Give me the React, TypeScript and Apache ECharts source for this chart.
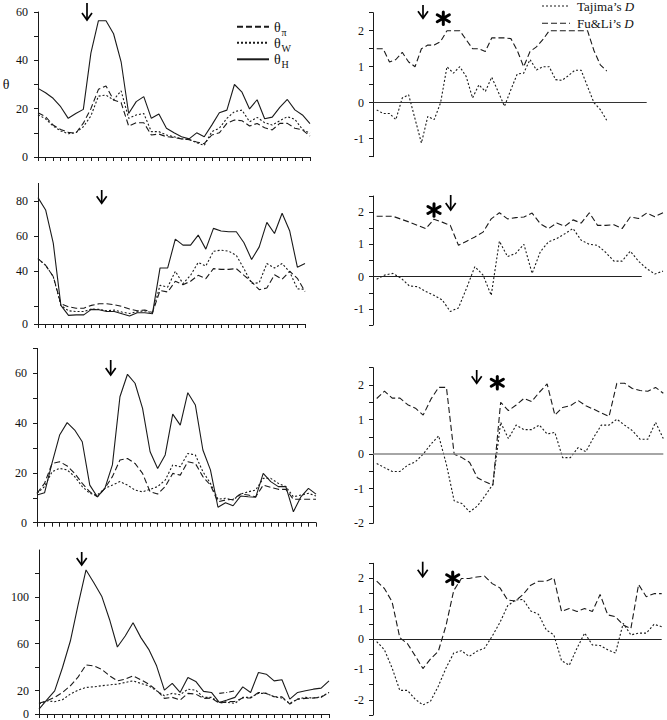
import React, { useEffect, useRef } from "react";
import * as echarts from "echarts";

// ---------- data ----------
// Panel 1 (left, top): 37 windows
const p1ThetaPi = [18.3, 16.7, 13.2, 11.4, 10.2, 9.8, 14, 20, 28, 29.4, 23.6, 22.5, 12.8, 14.2, 14.2, 9.1, 9.5, 8.4, 8.1, 7.5, 7.2, 6.2, 5.5, 9.1, 10, 13.9, 15.3, 15, 12.8, 13.9, 12.1, 11.2, 13.9, 13.9, 11.9, 11.2, 8.7];
const p1ThetaW = [17.5, 15.8, 12.8, 10.8, 9.6, 10, 12.5, 17, 25.2, 25.6, 23.6, 27.4, 16, 17.4, 18, 10.5, 10.5, 9.1, 8.4, 7.5, 7.2, 5.9, 4.8, 10.5, 11.9, 16, 18.8, 19.4, 14.6, 16.4, 14.2, 13.2, 15, 16.7, 15.6, 11.4, 9.8];
const p1ThetaH = [28.4, 26.6, 24.3, 20.8, 16, 18, 19.7, 43, 56.4, 56.4, 51, 39.4, 18, 22.9, 25, 16, 17.8, 11.9, 10, 8.4, 7.5, 10, 8.4, 13.2, 18.3, 19.4, 30, 26.8, 19.9, 23.7, 15.8, 16.5, 20.5, 23.8, 19.5, 17.4, 13.8];
const p1Tajima = [-0.2, -0.3, -0.3, -0.47, 0.13, 0.22, -0.45, -1.12, -0.38, -0.47, 0, 1.0, 0.82, 1.0, 0.73, 0.13, 0.5, 0.31, 0.71, 0.31, -0.1, 0.36, 0.8, 0.82, 1.2, 0.91, 1.0, 1.0, 0.64, 0.62, 0.75, 0.9, 0.9, 0.45, 0, -0.19, -0.49];
const p1FuLi = [1.5, 1.5, 1.13, 1.2, 1.4, 1.13, 1.0, 1.5, 1.6, 1.6, 1.7, 2, 2, 2, 1.75, 1.5, 1.5, 1.42, 1.8, 1.8, 1.8, 1.78, 1.45, 1.0, 1.42, 1.55, 1.75, 2, 2, 2, 2, 2, 2, 2, 1.45, 1.05, 0.88];

// Panel 2: 36 windows
const p2ThetaPi = [47.2, 43.4, 37, 21.5, 19.8, 19, 19, 20.6, 21.5, 21.5, 21, 20, 18.5, 17.5, 18, 16.5, 29.1, 28.2, 34.3, 32.4, 34.3, 37.7, 35.8, 41.5, 41.1, 41.1, 41.5, 37.7, 34, 29.5, 30.5, 38, 35.5, 40, 36, 28.5];
const p2ThetaW = [47.2, 43.4, 37, 20.6, 17.5, 17.1, 17.1, 18.5, 18.3, 17.5, 17.9, 16.8, 16, 17, 17.5, 16.4, 32, 31, 40, 33, 37.7, 45, 43, 51.4, 52, 51.4, 49, 41.5, 33, 33.5, 44.4, 41.9, 44.4, 39.6, 30, 29.7];
const p2ThetaH = [81.9, 74.9, 56, 20.6, 14.9, 15.2, 15.2, 18.3, 18.1, 17.1, 17.1, 15.8, 14.5, 16.4, 16.4, 15.8, 41.9, 41.9, 58.3, 54.9, 54.9, 60.6, 52.6, 64.4, 62.9, 62.5, 62.5, 56.2, 46.7, 53.9, 67.8, 61.5, 73, 62.9, 42.3, 44.4];
const p2Tajima = [-0.08, 0.05, 0.1, -0.05, -0.29, -0.31, -0.46, -0.58, -0.72, -1.08, -0.97, -0.35, 0.31, 0.05, -0.58, 1.1, 0.62, 0.72, 1.0, 0.1, 0.77, 1.08, 1.18, 1.33, 1.49, 1.13, 1.0, 0.97, 0.75, 0.48, 0.48, 0.79, 0.48, 0.25, 0.08, 0.17];
const p2FuLi = [1.87, 1.87, 1.87, 1.78, 1.69, 1.59, 1.49, 1.78, 1.69, 1.59, 0.97, 1.1, 1.23, 1.38, 1.79, 1.98, 1.79, 1.83, 1.85, 1.97, 1.64, 1.49, 1.66, 1.56, 1.76, 1.66, 1.98, 1.59, 1.59, 1.61, 1.49, 1.85, 1.8, 1.97, 1.86, 1.98];

// Panel 3: 38 windows
const p3ThetaPi = [11.8, 15.8, 23.8, 24.5, 22.8, 19.8, 15.8, 12.4, 10.4, 13.8, 18.5, 25.2, 25.8, 23.8, 19.8, 12.4, 11.5, 14.5, 19.8, 19.1, 24.5, 23.8, 18.5, 15.1, 8.4, 9.1, 9.4, 11.5, 11.1, 10.4, 15.1, 14.2, 13.4, 13.4, 9.4, 9.4, 9.4, 9.4];
const p3ThetaW = [11.8, 14.5, 20.5, 21.8, 21.2, 18.5, 14.5, 11.8, 11.1, 13.8, 15.1, 16.5, 15.1, 13.1, 12.4, 13.4, 14.5, 17.1, 23.2, 22.5, 27.8, 27.2, 20.5, 15.8, 9.4, 9.8, 9.1, 11.5, 12.4, 13.1, 17.8, 17.8, 15.8, 14.5, 10.4, 11.1, 11.8, 10.7];
const p3ThetaH = [11.1, 12, 24, 35.2, 40.2, 37.2, 32.5, 15.1, 10.4, 13.8, 23.2, 50.6, 59.6, 56, 45.9, 28.5, 21.8, 27.2, 43.6, 39.2, 52.2, 47.3, 29.2, 21.2, 6.2, 8, 6.8, 10.7, 10.4, 10.2, 19.8, 16.5, 14.5, 14.5, 4.4, 10.4, 13.8, 11.5];
const p3Tajima = [-0.27, -0.39, -0.5, -0.5, -0.32, -0.22, 0.0, 0.29, 0.53, -0.3, -1.35, -1.43, -1.67, -1.5, -1.2, -0.87, 0.92, 0.45, 0.84, 0.71, 0.71, 0.84, 0.58, 0.63, -0.1, -0.1, 0.19, 0.07, 0.48, 0.84, 0.84, 1.01, 0.84, 0.68, 0.43, 0.43, 0.92, 0.45];
const p3FuLi = [1.61, 1.82, 1.62, 1.62, 1.43, 1.33, 1.13, 1.59, 1.93, 1.93, 0.0, -0.1, -0.24, -0.68, -0.8, -0.9, 1.5, 1.26, 1.42, 1.61, 1.52, 1.79, 2.03, 1.13, 1.35, 1.4, 1.55, 1.4, 1.3, 1.19, 1.09, 2.05, 2.05, 1.9, 1.84, 1.82, 1.93, 1.76];

// Panel 4: 38 windows
const p4ThetaPi = [9.1, 11.3, 14.2, 18.4, 24.1, 31.7, 41.9, 41.1, 38.2, 32.6, 28.3, 29.7, 32.6, 29.2, 25.5, 20.4, 13.3, 14.2, 11.9, 17.6, 17, 13.3, 13.6, 9.1, 10.5, 10.8, 13.6, 13.6, 18.4, 17.6, 14.7, 14.7, 8.5, 12.7, 13.3, 13.6, 14.2, 18.4];
const p4ThetaW = [8.5, 11.3, 10.5, 12.2, 17, 20.4, 22.7, 23.2, 24.1, 24.9, 25.5, 26.9, 28.3, 26.1, 24.1, 19.8, 15.6, 17.6, 16.4, 21.2, 20.4, 14.2, 14.2, 9.9, 9.9, 9.1, 14.2, 14.2, 17.6, 17.6, 14.7, 13.6, 9.1, 12.7, 14.2, 13.6, 14.7, 18.4];
const p4ThetaH = [4.2, 12, 19.8, 39.7, 62.3, 93.5, 123, 112, 100.6, 80.7, 57.2, 66.6, 77.9, 65.2, 55.2, 41.1, 20.4, 26.1, 18.4, 31.2, 27.8, 19.3, 18.4, 9.9, 11.9, 14.2, 23.2, 18.4, 35.4, 34, 28.3, 29.2, 12.7, 18.4, 19.8, 21.2, 22.1, 28.3];
const p4Fragment = [17.6, 18.5, 19.8]; // stray short segment, windows 23-25
const p4FragmentStart = 23;
const p4Tajima = [-0.08, -0.35, -0.95, -1.69, -1.69, -1.98, -2.17, -2.04, -1.55, -0.95, -0.46, -0.38, -0.57, -0.4, -0.3, 0.1, 0.55, 1.1, 1.29, 1.31, 0.93, 0.82, 0.31, 0.14, -0.71, -0.86, -0.3, 0.2, -0.19, -0.21, -0.35, -0.46, 0.52, 0.14, 0.2, 0.2, 0.49, 0.41];
const p4FuLi = [1.91, 1.67, 1.23, 0.05, -0.15, -0.55, -0.97, -0.65, -0.4, 0.45, 1.6, 2, 2, 2.05, 2.08, 1.83, 1.69, 1.29, 1.26, 1.47, 1.78, 1.91, 1.91, 2.02, 0.91, 1.01, 0.91, 1.01, 0.91, 1.47, 0.8, 0.74, 0.47, 0.35, 1.8, 1.4, 1.5, 1.5];

// tick values / labels of the left (theta) axes
const p1Ticks = [0, 10, 20, 30, 40, 50, 60];
const p1Labels = [0, 20, 40, 60];
const p2Ticks = [10, 20, 40, 60, 80];
const p2Labels = [10, 40, 60, 80];
const p2LabelText: Record<number, string> = { 10: "0", 40: "40", 60: "60", 80: "80" };
const p3Ticks = [0, 10, 20, 30, 40, 50, 60, 70];
const p3Labels = [0, 20, 40, 60];
const p4Ticks = [0, 20, 40, 60, 80, 100, 120];
const p4Labels = [0, 20, 60, 100];

// ---------- layout ----------
const FONT = "Liberation Serif";
const INK = "#1a1a1a";
const LONG_DASH = [6, 3];
const DOT = [2, 2];

const leftGrids = [
  { left: 38, top: 12, width: 272, height: 145 },
  { left: 38, top: 183.4, width: 267, height: 140.6 },
  { left: 37, top: 348.4, width: 279, height: 174.3 },
  { left: 39, top: 550, width: 290, height: 165 },
];
const leftY = [
  { min: 0, max: 60, ticks: p1Ticks, labels: p1Labels, fmt: (v: number) => String(v) },
  { min: 10, max: 90, ticks: p2Ticks, labels: p2Labels, fmt: (v: number) => p2LabelText[v] ?? String(v) },
  { min: 0, max: 70, ticks: p3Ticks, labels: p3Labels, fmt: (v: number) => String(v) },
  { min: 0, max: 140, ticks: p4Ticks, labels: p4Labels, fmt: (v: number) => String(v) },
];
const leftSeries = [
  [p1ThetaPi, p1ThetaW, p1ThetaH],
  [p2ThetaPi, p2ThetaW, p2ThetaH],
  [p3ThetaPi, p3ThetaW, p3ThetaH],
  [p4ThetaPi, p4ThetaW, p4ThetaH],
];

const rightGrids = [
  { left: 373, top: 12.7, width: 273.7, height: 144 },
  { left: 373, top: 196, width: 290, height: 129 },
  { left: 373, top: 367.7, width: 290.3, height: 155.6 },
  { left: 373, top: 563.3, width: 288.7, height: 151.7 },
];
const rightX = [
  { min: -0.58, max: 42.26, zeroEnd: 42.26, zeroColor: "#333", zeroWidth: 1 },
  { min: -0.45, max: 35, zeroEnd: 32.4, zeroColor: "#222", zeroWidth: 1 },
  { min: -0.48, max: 37, zeroEnd: 37, zeroColor: "#888", zeroWidth: 1.6 },
  { min: -0.48, max: 37, zeroEnd: 37, zeroColor: "#222", zeroWidth: 1 },
];
const rightY = [
  { min: -1.5, max: 2.5 },
  { min: -1.5, max: 2.5 },
  { min: -2, max: 2.5 },
  { min: -2.5, max: 2.5 },
];
const rightSeries = [
  [p1Tajima, p1FuLi],
  [p2Tajima, p2FuLi],
  [p3Tajima, p3FuLi],
  [p4Tajima, p4FuLi],
];

// annotation marks (arrow: x, top, tip) and asterisks (cx, cy)
const arrows = [
  [87, 3, 20],
  [423, 5, 18.3],
  [101.7, 190, 203.3],
  [450.7, 195, 210],
  [110.7, 360, 375],
  [476.7, 370, 383.3],
  [81.7, 552, 565],
  [422.7, 561.7, 576.7],
];
const stars = [
  [443.3, 18.3],
  [434, 210],
  [497.3, 382.7],
  [452.7, 578.3],
];

const pairs = (arr: number[], start = 0) => arr.map((v, i) => [i + start, v]);

function lineSeries(name: string, data: number[], idx: number, dash: any, width: number, start = 0) {
  return {
    type: "line",
    name,
    data: pairs(data, start),
    xAxisIndex: idx,
    yAxisIndex: idx,
    symbol: "none",
    showSymbol: false,
    silent: true,
    lineStyle: { color: INK, width, type: dash },
    z: 3,
  };
}

function buildOption() {
  const grid: any[] = [];
  const xAxis: any[] = [];
  const yAxis: any[] = [];
  const series: any[] = [];

  leftGrids.forEach((g, k) => {
    grid.push({ ...g });
    const n = leftSeries[k][0].length;
    xAxis.push({
      type: "value",
      gridIndex: k,
      min: 0,
      max: n - 1,
      interval: 1,
      axisLine: { show: true, onZero: false, lineStyle: { color: INK, width: 1 } },
      axisTick: { show: true, length: 4, lineStyle: { color: INK, width: 1 } },
      axisLabel: { show: false },
      splitLine: { show: false },
    });
    const ly = leftY[k];
    yAxis.push({
      type: "value",
      gridIndex: k,
      min: ly.min,
      max: ly.max,
      axisLine: { show: true, lineStyle: { color: INK, width: 1 } },
      axisTick: { show: true, length: 4, customValues: ly.ticks, lineStyle: { color: INK, width: 1 } },
      axisLabel: {
        show: true,
        customValues: ly.labels,
        formatter: (v: number) => ly.fmt(v),
        fontFamily: FONT,
        fontSize: 12,
        color: "#111",
        margin: 10,
      },
      splitLine: { show: false },
    });
    const [pi, w, h] = leftSeries[k];
    series.push(lineSeries("θπ", pi, k, LONG_DASH, 1.1));
    series.push(lineSeries("θW", w, k, DOT, 1.1));
    series.push(lineSeries("θH", h, k, "solid", 1.1));
  });
  series.push(lineSeries("fragment", p4Fragment, 3, [5, 2, 1, 2], 1.1, p4FragmentStart));

  rightGrids.forEach((g, k) => {
    const idx = k + 4;
    grid.push({ ...g });
    const rx = rightX[k];
    xAxis.push({ type: "value", gridIndex: idx, min: rx.min, max: rx.max, show: false });
    const ry = rightY[k];
    yAxis.push({
      type: "value",
      gridIndex: idx,
      min: ry.min,
      max: ry.max,
      interval: 0.5,
      axisLine: { show: true, onZero: false, lineStyle: { color: INK, width: 1 } },
      axisTick: { show: true, length: 4, lineStyle: { color: INK, width: 1 } },
      axisLabel: {
        show: true,
        formatter: (v: number) => (Number.isInteger(v) ? String(v) : ""),
        fontFamily: FONT,
        fontSize: 12,
        color: "#111",
        margin: 9,
      },
      splitLine: { show: false },
    });
    const [taj, fl] = rightSeries[k];
    series.push(lineSeries("Tajima's D", taj, idx, DOT, 1.1));
    const fls: any = lineSeries("Fu&Li's D", fl, idx, LONG_DASH, 1.1);
    fls.markLine = {
      silent: true,
      symbol: ["none", "none"],
      label: { show: false },
      lineStyle: { type: "solid", color: rx.zeroColor, width: rx.zeroWidth },
      emphasis: { disabled: true },
      data: [[{ coord: [rx.min, 0] }, { coord: [rx.zeroEnd, 0] }]],
    };
    series.push(fls);
  });

  const graphic: any[] = [];
  // y-axis title
  graphic.push({
    type: "text",
    x: 6,
    y: 84,
    style: { text: "θ", fontFamily: FONT, fontSize: 14, fill: "#111", align: "center", verticalAlign: "middle", textAlign: "center", textVerticalAlign: "middle" },
  });
  // left legend
  const legL = [
    { y: 26.7, dash: LONG_DASH, sub: "π" },
    { y: 42.7, dash: DOT, sub: "W" },
    { y: 59.3, dash: null, sub: "H" },
  ];
  legL.forEach((e) => {
    graphic.push({
      type: "line",
      shape: { x1: 237, y1: e.y, x2: 269, y2: e.y },
      style: { stroke: INK, lineWidth: 2, lineDash: e.dash || undefined },
    });
    graphic.push({
      type: "text",
      x: 274,
      y: e.y + 0.5,
      style: { text: "θ", fontFamily: FONT, fontSize: 14, fill: "#111", align: "left", verticalAlign: "middle", textAlign: "left", textVerticalAlign: "middle" },
    });
    graphic.push({
      type: "text",
      x: 281.5,
      y: e.y + 5.5,
      style: { text: e.sub, fontFamily: FONT, fontSize: 10, fill: "#111", align: "left", verticalAlign: "middle", textAlign: "left", textVerticalAlign: "middle" },
    });
  });
  // right legend
  const legR = [
    { y: 6, dash: DOT, name: "Tajima’s " },
    { y: 23.3, dash: LONG_DASH, name: "Fu&Li’s " },
  ];
  legR.forEach((e) => {
    graphic.push({
      type: "line",
      shape: { x1: 542, y1: e.y, x2: 570, y2: e.y },
      style: { stroke: INK, lineWidth: 1.1, lineDash: e.dash },
    });
    graphic.push({
      type: "text",
      x: 577,
      y: e.y,
      style: {
        text: `{n|${e.name}}{i|D}`,
        rich: {
          n: { fontFamily: FONT, fontSize: 13, fill: "#111" },
          i: { fontFamily: FONT, fontSize: 13, fontStyle: "italic", fill: "#111" },
        },
        fontFamily: FONT,
        fontSize: 13,
        fill: "#111",
        align: "left",
        verticalAlign: "middle",
        textAlign: "left",
        textVerticalAlign: "middle",
      },
    });
  });
  // arrows
  arrows.forEach(([x, y1, y2]) => {
    graphic.push({ type: "line", shape: { x1: x, y1, x2: x, y2: y2 - 0.5 }, style: { stroke: "#000", lineWidth: 1.7 } });
    graphic.push({
      type: "polyline",
      shape: { points: [[x - 5, y2 - 7], [x, y2], [x + 5, y2 - 7]] },
      style: { stroke: "#000", lineWidth: 1.7, fill: "none" },
    });
  });
  // asterisks
  stars.forEach(([cx, cy]) => {
    const r = 7;
    const angs = [90, 30, 150];
    angs.forEach((a) => {
      const rad = (a * Math.PI) / 180;
      const dx = Math.cos(rad) * r;
      const dy = Math.sin(rad) * (a === 90 ? 6.2 : r);
      graphic.push({
        type: "line",
        shape: { x1: cx - dx, y1: cy + dy, x2: cx + dx, y2: cy - dy },
        style: { stroke: "#000", lineWidth: 3, lineCap: "round" },
      });
    });
  });

  return { animation: false, backgroundColor: "#fff", grid, xAxis, yAxis, series, graphic };
}

export default function App() {
  const ref = useRef<HTMLDivElement>(null);
  useEffect(() => {
    if (!ref.current) return;
    const chart = echarts.init(ref.current, undefined, { renderer: "svg" });
    chart.setOption(buildOption() as any);
    return () => chart.dispose();
  }, []);
  return <div ref={ref} style={{ position: "fixed", left: 0, top: 0, width: 667, height: 720, background: "#fff" }} />;
}
